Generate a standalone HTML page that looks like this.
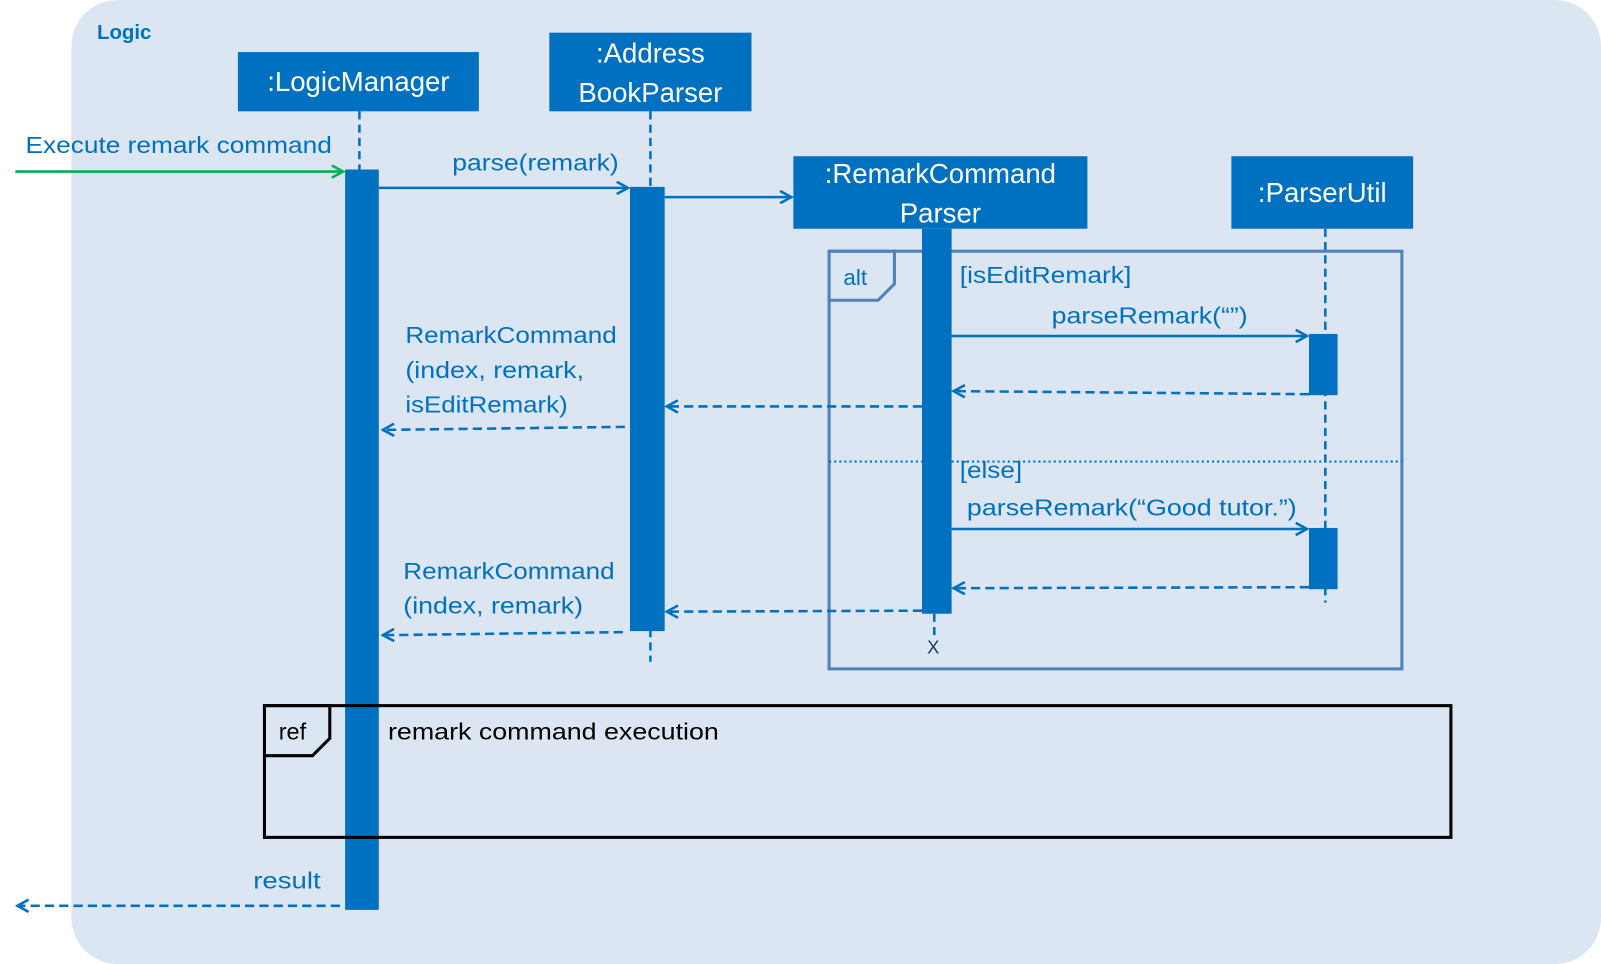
<!DOCTYPE html>
<html><head><meta charset="utf-8"><style>
html,body{margin:0;padding:0;background:#fff;overflow:hidden;width:1601px;height:964px;}
svg{display:block;font-family:"Liberation Sans",sans-serif;}
</style></head><body>
<svg width="1601" height="964" viewBox="0 0 1568 944" preserveAspectRatio="none" xmlns="http://www.w3.org/2000/svg">
<defs>
<marker id="ob" markerWidth="14" markerHeight="14" refX="12" refY="7" orient="auto" markerUnits="userSpaceOnUse"><path d="M1,1 L12,7 L1,13" fill="none" stroke="#0070c0" stroke-width="2.5"/></marker>
<marker id="og" markerWidth="14" markerHeight="14" refX="12" refY="7" orient="auto" markerUnits="userSpaceOnUse"><path d="M1,1 L12,7 L1,13" fill="none" stroke="#00b050" stroke-width="2.5"/></marker>
</defs>
<rect x="70" y="0" width="1498" height="944" rx="45" fill="#dce6f2"/>
<text x="95" y="38" font-size="20" font-weight="bold" fill="#0070c0">Logic</text>

<g stroke="#0070c0" stroke-width="2.5" stroke-dasharray="8,5">
<line x1="352" y1="109" x2="352" y2="166"/>
<line x1="637" y1="109" x2="637" y2="648"/>
<line x1="915" y1="601" x2="915" y2="625"/>
<line x1="1298" y1="224" x2="1298" y2="590"/>
</g>

<g fill="#0070c0">
<rect x="233" y="51" width="236" height="58"/>
<rect x="538" y="32" width="198" height="77"/>
<rect x="777" y="153" width="288" height="71"/>
<rect x="1206" y="153" width="178" height="71"/>
</g>
<g fill="#fff" font-size="27" text-anchor="middle">
<text x="351" y="89">:LogicManager</text>
<text x="637" y="61">:Address</text>
<text x="637" y="100">BookParser</text>
<text x="921" y="179">:RemarkCommand</text>
<text x="921" y="218">Parser</text>
<text x="1295" y="198">:ParserUtil</text>
</g>

<g fill="none" stroke="#4f81bd" stroke-width="3">
<rect x="812" y="246" width="561" height="409"/>
<path d="M812,246 H876 V278 L860,294 H812"/>
</g>
<line x1="812" y1="452" x2="1373" y2="452" stroke="#0070c0" stroke-width="2" stroke-dasharray="2,3"/>
<text x="826" y="279" font-size="22" fill="#0070c0">alt</text>

<g fill="#0070c0">
<rect x="338" y="166" width="33" height="725"/>
<rect x="617" y="183" width="34" height="435"/>
<rect x="903" y="224" width="29" height="377"/>
<rect x="1282" y="327" width="28" height="60"/>
<rect x="1282" y="517" width="28" height="60"/>
</g>
<text x="914" y="640" font-size="18" fill="#1f3864" text-anchor="middle">X</text>

<line x1="15" y1="168" x2="336" y2="168" stroke="#00b050" stroke-width="2.5" marker-end="url(#og)"/>
<g stroke="#0070c0" stroke-width="2.5" fill="none">
<line x1="371" y1="184" x2="615" y2="184" marker-end="url(#ob)"/>
<line x1="651" y1="193" x2="775" y2="193" marker-end="url(#ob)"/>
<line x1="932" y1="329" x2="1280" y2="329" marker-end="url(#ob)"/>
<line x1="932" y1="518" x2="1280" y2="518" marker-end="url(#ob)"/>
<g stroke-dasharray="9,5">
<line x1="1282" y1="386" x2="934" y2="383" marker-end="url(#ob)"/>
<line x1="903" y1="398" x2="653" y2="398" marker-end="url(#ob)"/>
<line x1="612" y1="418" x2="375" y2="421" marker-end="url(#ob)"/>
<line x1="1282" y1="575" x2="934" y2="576" marker-end="url(#ob)"/>
<line x1="903" y1="598" x2="653" y2="599" marker-end="url(#ob)"/>
<line x1="610" y1="619" x2="375" y2="622" marker-end="url(#ob)"/>
<line x1="333" y1="887" x2="17" y2="887" marker-end="url(#ob)"/>
</g>
</g>

<g font-size="23" fill="#0070c0">
<text x="25" y="150" textLength="300" lengthAdjust="spacingAndGlyphs">Execute remark command</text>
<text x="443" y="167" textLength="163" lengthAdjust="spacingAndGlyphs">parse(remark)</text>
<text x="940" y="277" textLength="168" lengthAdjust="spacingAndGlyphs">[isEditRemark]</text>
<text x="1030" y="317" textLength="192" lengthAdjust="spacingAndGlyphs">parseRemark(“”)</text>
<text x="397" y="336" textLength="207" lengthAdjust="spacingAndGlyphs">RemarkCommand</text>
<text x="397" y="370" textLength="175" lengthAdjust="spacingAndGlyphs">(index, remark,</text>
<text x="397" y="404" textLength="159" lengthAdjust="spacingAndGlyphs">isEditRemark)</text>
<text x="940" y="468" textLength="61" lengthAdjust="spacingAndGlyphs">[else]</text>
<text x="947" y="505" textLength="323" lengthAdjust="spacingAndGlyphs">parseRemark(“Good tutor.”)</text>
<text x="395" y="567" textLength="207" lengthAdjust="spacingAndGlyphs">RemarkCommand</text>
<text x="395" y="601" textLength="176" lengthAdjust="spacingAndGlyphs">(index, remark)</text>
<text x="248" y="870" textLength="66" lengthAdjust="spacingAndGlyphs">result</text>
</g>

<g fill="none" stroke="#000" stroke-width="3">
<rect x="259" y="691" width="1162" height="129"/>
<path d="M259,691 H323 V723 L306,740 H259"/>
</g>
<text x="273" y="724" font-size="23" fill="#000">ref</text>
<text x="380" y="724" font-size="23" fill="#000" textLength="324" lengthAdjust="spacingAndGlyphs">remark command execution</text>
</svg>
</body></html>
